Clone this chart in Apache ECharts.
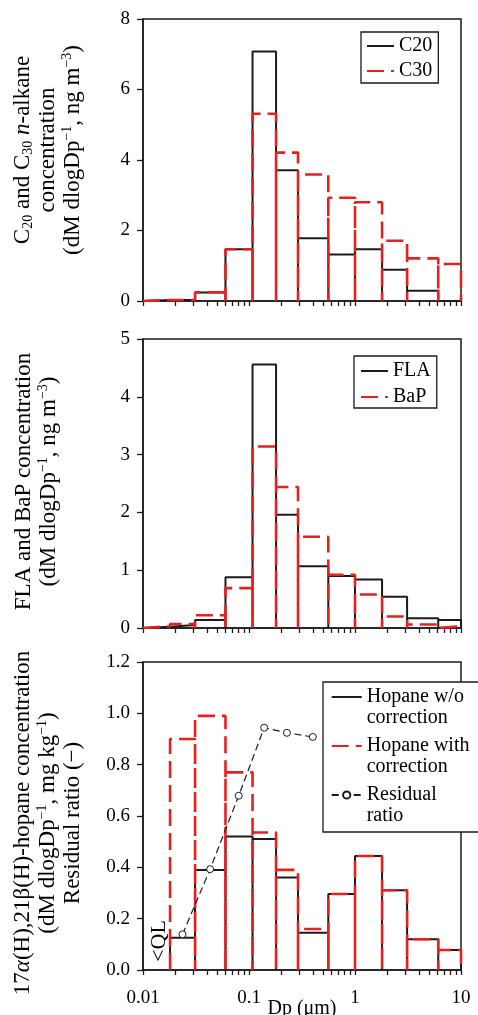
<!DOCTYPE html>
<html><head><meta charset="utf-8">
<script src="https://cdn.jsdelivr.net/npm/echarts@6/dist/echarts.min.js"></script>
<style>html,body{margin:0;padding:0;background:#fff}#c{width:478px;height:1015px}</style>
</head><body><div id="c"></div>
<script>
// ---- data ----
const binEdges = [0.01, 0.018, 0.031, 0.06, 0.108, 0.18, 0.29, 0.56, 1.0, 1.8, 3.1, 6.1, 10];
const c20 = [0.03, 0.03, 0.24, 1.47, 7.08, 3.71, 1.78, 1.32, 1.47, 0.89, 0.29, 0.0];
const c30 = [0.03, 0.03, 0.25, 1.47, 5.31, 4.21, 3.59, 2.93, 2.80, 1.71, 1.21, 1.05];
const fla = [0.02, 0.05, 0.14, 0.88, 4.56, 1.96, 1.07, 0.90, 0.84, 0.54, 0.17, 0.14];
const bap = [0.03, 0.07, 0.22, 0.69, 3.14, 2.44, 1.58, 0.92, 0.58, 0.20, 0.06, 0.03];
const hopaneRaw  = [null, 0.126, 0.39, 0.52, 0.51, 0.36, 0.145, 0.296, 0.444, 0.311, 0.12, 0.078];
const hopaneCorr = [null, 0.90, 0.99, 0.77, 0.536, 0.39, 0.16, 0.296, 0.444, 0.311, 0.12, 0.078];
const residualDp = [0.0236, 0.043, 0.080, 0.139, 0.228, 0.40];
const residual   = [0.139, 0.393, 0.679, 0.944, 0.924, 0.908];
const xMajorTicks = [0.01, 0.1, 1, 10];
const xMinorTicks = [0.02,0.03,0.04,0.05,0.06,0.07,0.08,0.09,0.2,0.3,0.4,0.5,0.6,0.7,0.8,0.9,2,3,4,5,6,7,8,9];
const qlBin = [0.01, 0.018];
const names = {
  c20: 'C20', c30: 'C30', fla: 'FLA', bap: 'BaP',
  hr: 'Hopane w/o\ncorrection', hc: 'Hopane with\ncorrection', rr: 'Residual\nratio'
};

// ---- helpers ----
function stepPath(edges, vals) {
  const pts = [];
  for (let i = 0; i < vals.length; i++) {
    if (vals[i] == null) continue;
    pts.push([edges[i], 0], [edges[i], vals[i]], [edges[i + 1], vals[i]], [edges[i + 1], 0]);
  }
  return pts;
}
const FF = 'Liberation Serif, Times New Roman, serif';
const BLK = '#1c1a1b';
const RED = '#e6201e';
const DASH = [17, 7];
const TFS = 23, TLH = 25;

const grids = [
  {left: 143, top: 19, width: 318, height: 282},
  {left: 143, top: 339, width: 318, height: 289},
  {left: 143, top: 662, width: 318, height: 308}
].map(g => Object.assign(g, {show: true, borderColor: BLK, borderWidth: 1.5, backgroundColor: 'transparent',
  containLabel: false, outerBoundsMode: 'none'}));

function xAxis(i, showLabel) {
  return {
    type: 'log', logBase: 10, gridIndex: i, min: 0.01, max: 10,
    axisLine: {show: true, lineStyle: {color: BLK, width: 1.5}},
    axisTick: {show: true, inside: false, length: 5, lineStyle: {color: BLK, width: 1.3},
      customValues: xMajorTicks.concat(xMinorTicks)},
    minorTick: {show: false},
    splitLine: {show: false},
    axisLabel: {show: showLabel, customValues: xMajorTicks, margin: 19, color: '#000',
      fontFamily: FF, fontSize: 19, formatter: v => String(+(+v).toPrecision(3))},
    name: showLabel ? 'Dp (\u03bcm)' : '', nameLocation: 'middle', nameGap: 29, nameMoveOverlap: false,
    nameTextStyle: {fontFamily: FF, fontSize: 20, color: '#000'}
  };
}
const richT = {
  sub: {fontFamily: FF, fontSize: 14, lineHeight: 10, verticalAlign: 'bottom', color: '#000'},
  sup: {fontFamily: FF, fontSize: 14, lineHeight: 13, verticalAlign: 'top', color: '#000'},
  it: {fontFamily: FF, fontSize: TFS, lineHeight: TLH, fontStyle: 'italic', color: '#000'}
};
function yAxis(i, max, interval, dec, name, gap, pad) {
  return {
    type: 'value', gridIndex: i, min: 0, max: max, interval: interval,
    axisLine: {show: true, lineStyle: {color: BLK, width: 1.5}},
    axisTick: {show: true, inside: false, length: 6, lineStyle: {color: BLK, width: 1.3}},
    splitLine: {show: false},
    axisLabel: {margin: 13, color: '#000', fontFamily: FF, fontSize: 19, formatter: v => (+v).toFixed(dec)},
    name: name, nameLocation: 'middle', nameRotate: 90, nameGap: gap, nameMoveOverlap: false,
    nameTextStyle: {fontFamily: FF, fontSize: TFS, lineHeight: TLH, color: '#000', rich: richT, padding: pad}
  };
}

const solid = (name, data, xi) => ({
  type: 'line', name: name, xAxisIndex: xi, yAxisIndex: xi, data: data, symbol: 'none',
  lineStyle: {color: BLK, width: 2}, itemStyle: {color: BLK}, z: 2, silent: true
});
const dashed = (name, data, xi) => ({
  type: 'line', name: name, xAxisIndex: xi, yAxisIndex: xi, data: data, symbol: 'none',
  lineStyle: {color: RED, width: 2.6, type: DASH}, itemStyle: {color: RED}, z: 3, silent: true
});
const noSym = n => ({name: n, itemStyle: {opacity: 0, color: 'transparent', borderColor: 'transparent'}});

const legendBase = {
  orient: 'vertical', backgroundColor: '#fff', borderColor: BLK, borderWidth: 1.3,
  itemWidth: 27, itemHeight: 14, selectedMode: false,
  textStyle: {fontFamily: FF, fontSize: 20, lineHeight: 20, color: '#000'}
};

const option = {
  animation: false,
  backgroundColor: '#fff',
  grid: grids,
  xAxis: [xAxis(0, false), xAxis(1, false), xAxis(2, true)],
  yAxis: [
    yAxis(0, 8, 2, 0, 'C{sub|20} and C{sub|30} {it|n}-alkane\nconcentration\n(dM dlogDp{sup|\u22121}, ng m{sup|\u22123})', 58, [0, 0, 0, 20]),
    yAxis(1, 5, 1, 0, 'FLA and BaP concentration\n(dM dlogDp{sup|\u22121}, ng m{sup|\u22123})', 82, [0, 0, 0, 4]),
    yAxis(2, 1.2, 0.2, 1, '17{it|\u03b1}(H),21\u03b2(H)-hopane concentration\n(dM dlogDp{sup|\u22121}, mg kg{sup|\u22121})\nResidual ratio (\u2212)', 58, [0, 14, 0, 0])
  ],
  legend: [
    Object.assign({}, legendBase, {data: [noSym(names.c20), noSym(names.c30)], left: 361, top: 32, padding: [4, 6, 2, 5], itemGap: 5}),
    Object.assign({}, legendBase, {data: [noSym(names.fla), noSym(names.bap)], left: 354, top: 356, padding: [5, 6, 1, 6], itemGap: 6}),
    Object.assign({}, legendBase, {data: [noSym(names.hr), noSym(names.hc), names.rr], left: 323, top: 682,
      itemWidth: 30, itemHeight: 9, padding: [-16.5, 20, 5.5, 7.7], itemGap: -14,
      formatter: n => '\n' + n,
      textStyle: {fontFamily: FF, fontSize: 20, lineHeight: 21, color: '#000'}})
  ],
  series: [
    solid(names.c20, stepPath(binEdges, c20), 0),
    dashed(names.c30, stepPath(binEdges, c30), 0),
    solid(names.fla, stepPath(binEdges, fla), 1),
    dashed(names.bap, stepPath(binEdges, bap), 1),
    solid(names.hr, stepPath(binEdges, hopaneRaw), 2),
    dashed(names.hc, stepPath(binEdges, hopaneCorr), 2),
    {
      type: 'line', name: names.rr, xAxisIndex: 2, yAxisIndex: 2,
      data: residualDp.map((d, i) => [d, residual[i]]),
      symbol: 'circle', symbolSize: 7, showSymbol: true,
      lineStyle: {color: BLK, width: 1.2, type: [7, 4]},
      itemStyle: {color: '#fff', borderColor: BLK, borderWidth: 1},
      z: 5, silent: true
    }
  ]
};
const chart = echarts.init(document.getElementById('c'), null, {renderer: 'canvas'});
chart.setOption(option);
const qp = chart.convertToPixel({xAxisIndex: 2, yAxisIndex: 2}, [Math.sqrt(qlBin[0] * qlBin[1]), 0]);
chart.setOption({graphic: [{
  type: 'text', x: qp[0] + 3, y: qp[1] - 29, rotation: Math.PI / 2,
  style: {text: '<QL', fontFamily: FF, fontSize: 22, fill: '#000', align: 'center', verticalAlign: 'middle'}, z: 10
}]});
</script></body></html>
